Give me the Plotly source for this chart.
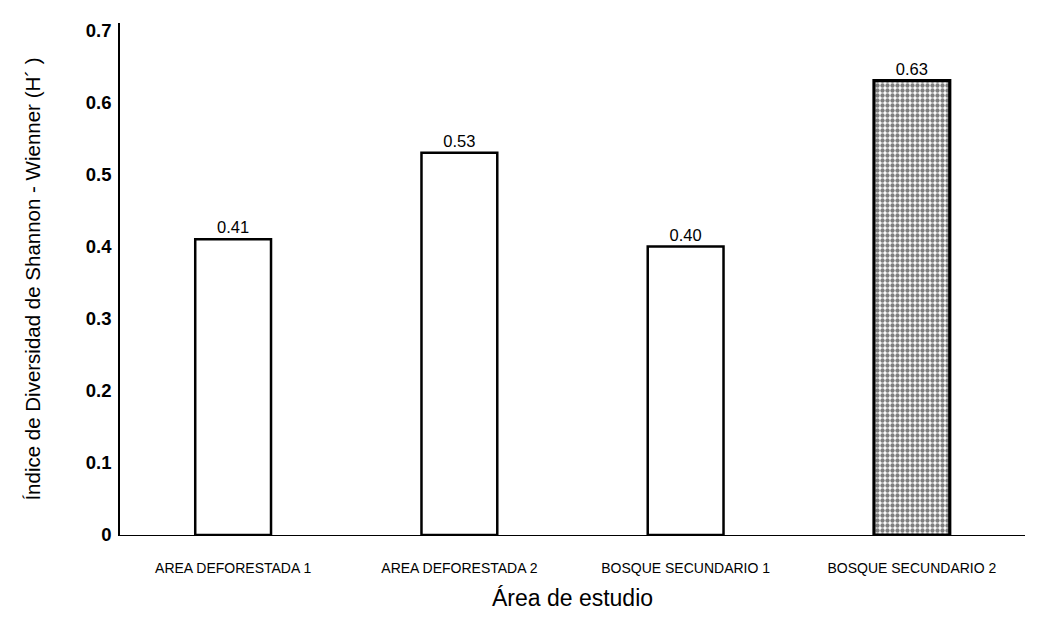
import plotly.graph_objects as go

areas = ["AREA DEFORESTADA 1", "AREA DEFORESTADA 2", "BOSQUE SECUNDARIO 1", "BOSQUE SECUNDARIO 2"]
shannon = [0.41, 0.53, 0.40, 0.63]
labels = ["0.41", "0.53", "0.40", "0.63"]
y_ticks = [0, 0.1, 0.2, 0.3, 0.4, 0.5, 0.6, 0.7]
y_ticktext = ["0", "0.1", "0.2", "0.3", "0.4", "0.5", "0.6", "0.7"]

patterns = ["", "", "", "."]
outline_w = [2.5, 2.5, 2.5, 3.2]

fig = go.Figure(
    go.Bar(
        x=areas,
        y=shannon,
        text=labels,
        textposition="outside",
        textfont=dict(family="Liberation Sans, Arial", size=16.5, color="black"),
        cliponaxis=False,
        width=0.335,
        marker=dict(
            color="white",
            line=dict(color="black", width=outline_w),
            pattern=dict(shape=patterns, fgcolor="black", bgcolor="white",
                         size=5, solidity=0.6, fillmode="overlay"),
        ),
    )
)

fig.update_layout(
    width=1049,
    height=621,
    margin=dict(l=120, r=24, t=23, b=86),
    paper_bgcolor="white",
    plot_bgcolor="white",
    showlegend=False,
    font=dict(family="Liberation Sans, Arial", color="black"),
    xaxis=dict(
        showline=True, linecolor="black", linewidth=1.4,
        showgrid=False, ticks="",
        tickfont=dict(size=14, color="black"),
        ticklabelstandoff=20,
        title=dict(text="Área de estudio", font=dict(size=23), standoff=14),
    ),
    yaxis=dict(
        range=[0, 0.71],
        tickvals=y_ticks, ticktext=y_ticktext,
        showline=True, linecolor="black", linewidth=1.6,
        showgrid=False, zeroline=False, ticks="",
        tickfont=dict(size=18.5, color="black", weight="bold"),
        ticklabelstandoff=3,
        title=dict(text="Índice de Diversidad de Shannon - Wienner (H´ )",
                   font=dict(size=20.5),
                   standoff=40),
    ),
)

fig.write_html("out.html")
